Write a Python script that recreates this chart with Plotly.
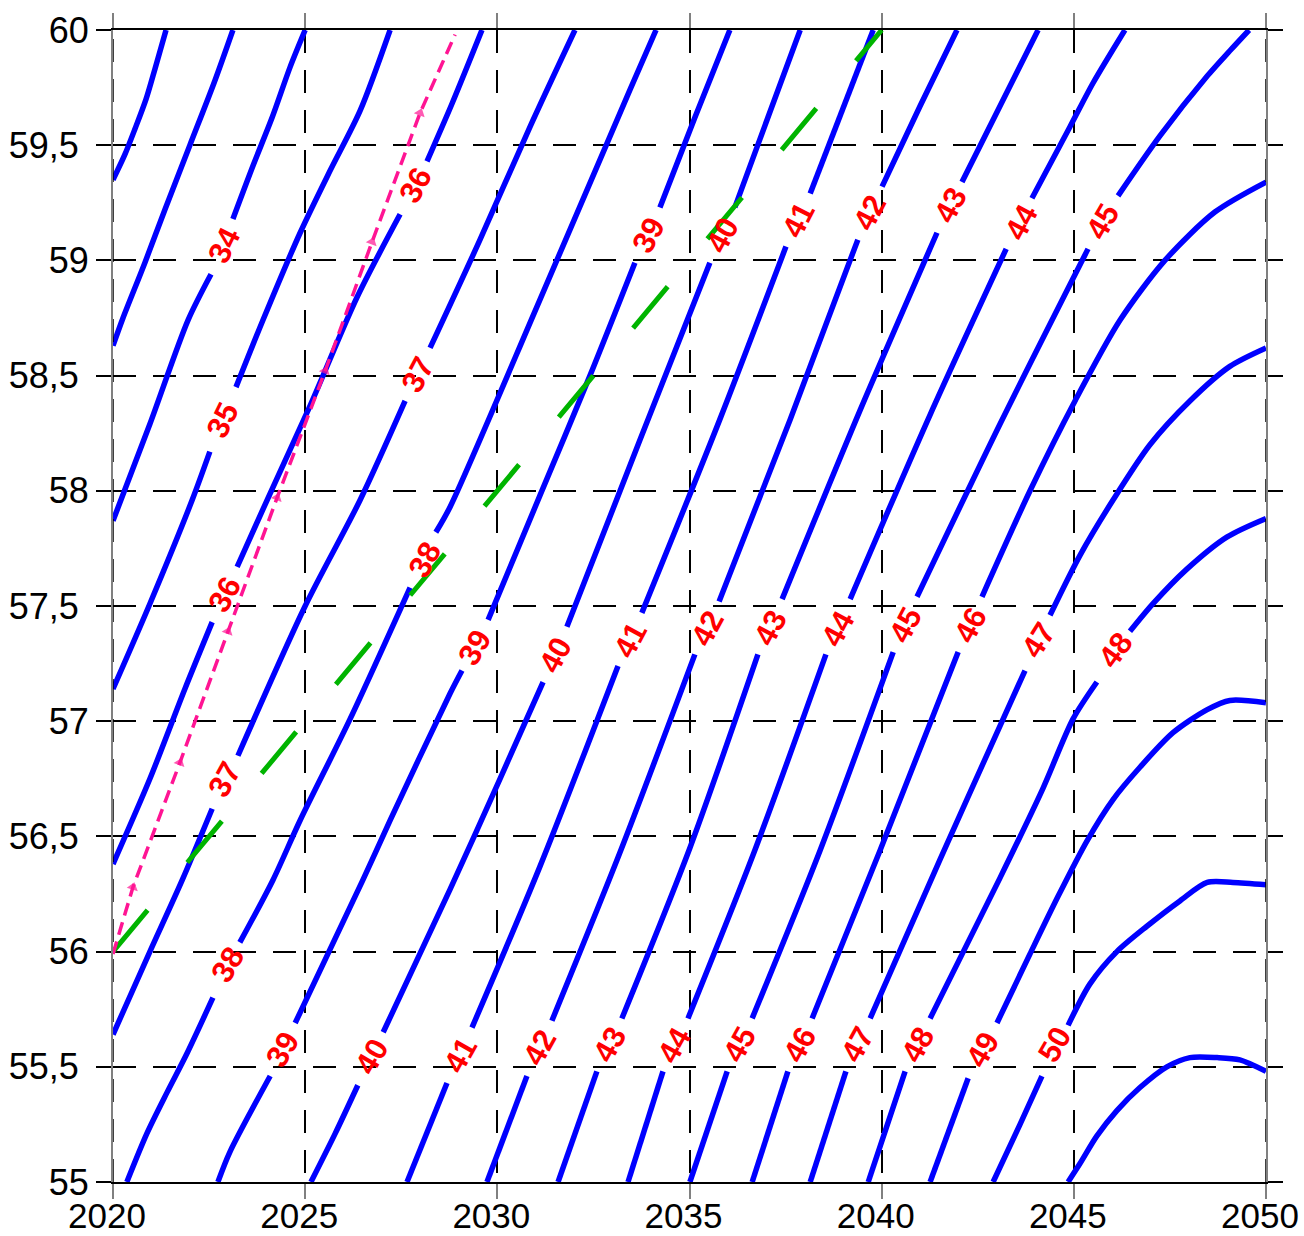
import plotly.graph_objects as go

# ---------------- data ----------------
x_ticks = [2020, 2025, 2030, 2035, 2040, 2045, 2050]
x_tick_text = ["2020", "2025", "2030", "2035", "2040", "2045", "2050"]
y_ticks = [55, 55.5, 56, 56.5, 57, 57.5, 58, 58.5, 59, 59.5, 60]
y_tick_text = ["55", "55,5\u00a0", "56", "56,5\u00a0", "57", "57,5\u00a0",
               "58", "58,5\u00a0", "59", "59,5\u00a0", "60"]

# contour lines (None = break where a label sits)
lvl32_x = [2020.00, 2020.31, 2020.57, 2020.86, 2021.09, 2021.38]
lvl32_y = [59.35, 59.46, 59.57, 59.70, 59.83, 60.00]
lvl33_x = [2020.00, 2020.26, 2020.83, 2021.35, 2022.00, 2022.65, 2023.12]
lvl33_y = [58.63, 58.75, 58.99, 59.22, 59.50, 59.78, 60.00]
lvl34_x = [2020.00, 2020.96, 2021.95, 2022.55, None, 2023.12, 2023.64, 2024.14, 2024.61, 2025.00]
lvl34_y = [57.87, 58.29, 58.74, 58.94, None, 59.18, 59.41, 59.62, 59.84, 60.00]
lvl35_x = [2020.00, 2020.96, 2022.06, 2022.52, None, 2023.20, 2023.90, 2024.87, 2025.65, 2026.43, 2027.21]
lvl35_y = [57.14, 57.51, 57.96, 58.17, None, 58.45, 58.74, 59.12, 59.39, 59.65, 60.00]
lvl36_x = [2020.00, 2020.96, 2021.87, 2022.58, None, 2023.23, 2024.01, 2025.13, 2026.35, 2027.47, None, 2028.17, 2028.82, 2029.60]
lvl36_y = [56.38, 56.75, 57.14, 57.43, None, 57.67, 57.96, 58.37, 58.84, 59.20, None, 59.43, 59.68, 60.00]
lvl37_x = [2020.00, 2020.96, 2021.80, 2022.58, None, 2023.25, 2025.00, 2026.43, 2027.60, None, 2028.25, 2029.55, 2030.85, 2032.02]
lvl37_y = [55.64, 56.00, 56.31, 56.62, None, 56.85, 57.50, 57.96, 58.39, None, 58.62, 59.09, 59.58, 60.00]
lvl38_x = [2020.36, 2020.88, 2021.41, 2021.93, 2022.60, None, 2023.30, 2024.16, 2024.87, 2026.17, 2027.73, None, 2028.40, 2028.77, 2031.11, 2033.45, 2034.13]
lvl38_y = [55.00, 55.21, 55.39, 55.56, 55.80, None, 56.04, 56.31, 56.57, 57.01, 57.58, None, 57.82, 57.93, 58.83, 59.74, 60.00]
lvl39_x = [2022.73, 2023.04, 2024.09, None, 2024.74, 2026.50, 2027.21, 2028.77, 2029.08, None, 2029.76, 2031.11, 2032.41, 2033.58, None, 2034.23, 2035.14, 2036.05]
lvl39_y = [55.00, 55.13, 55.46, None, 55.69, 56.31, 56.57, 57.12, 57.22, None, 57.44, 57.98, 58.50, 58.99, None, 59.23, 59.62, 60.00]
lvl40_x = [2025.15, 2025.78, 2026.37, None, 2027.03, 2028.77, 2030.07, 2031.19, None, 2031.81, 2033.71, 2035.53, None, 2036.18, 2037.04, 2037.88]
lvl40_y = [55.00, 55.21, 55.42, None, 55.65, 56.27, 56.75, 57.17, None, 57.41, 58.22, 58.99, None, 59.23, 59.62, 60.00]
lvl41_x = [2027.65, 2028.69, None, 2029.34, 2031.11, 2033.14, None, 2033.76, 2035.79, 2037.51, None, 2038.14, 2039.78]
lvl41_y = [55.00, 55.43, None, 55.67, 56.37, 57.24, None, 57.47, 58.31, 59.06, None, 59.29, 60.00]
lvl42_x = [2029.73, 2030.77, None, 2031.42, 2033.19, 2035.14, None, 2035.77, 2037.62, 2039.38, None, 2040.01, 2041.00, 2041.96]
lvl42_y = [55.00, 55.46, None, 55.70, 56.43, 57.29, None, 57.52, 58.31, 59.09, None, 59.32, 59.67, 60.00]
lvl43_x = [2031.58, 2032.59, None, 2033.24, 2035.01, 2036.78, None, 2037.41, 2039.44, 2041.44, None, 2042.09, 2043.08, 2044.07]
lvl43_y = [55.00, 55.48, None, 55.71, 56.45, 57.29, None, 57.53, 58.35, 59.12, None, 59.34, 59.67, 60.00]
lvl44_x = [2033.40, 2034.31, None, 2034.96, 2036.70, 2038.55, None, 2039.18, 2041.26, 2043.24, None, 2043.91, 2044.90, 2045.50, 2046.33]
lvl44_y = [55.00, 55.48, None, 55.71, 56.44, 57.29, None, 57.53, 58.33, 59.05, None, 59.27, 59.58, 59.77, 60.00]
lvl45_x = [2035.01, 2035.98, None, 2036.63, 2038.40, 2040.30, None, 2040.92, 2043.08, 2045.37, None, 2046.15, 2047.24, 2048.47, 2049.06, 2049.56]
lvl45_y = [55.00, 55.48, None, 55.71, 56.44, 57.30, None, 57.54, 58.29, 59.05, None, 59.28, 59.54, 59.80, 59.91, 60.00]
lvl46_x = [2036.63, 2037.56, None, 2038.19, 2039.96, 2041.99, None, 2042.61, 2043.86, 2045.03, 2046.20, 2047.37, 2048.67, 2050.00]
lvl46_y = [55.00, 55.48, None, 55.71, 56.44, 57.30, None, 57.54, 58.00, 58.39, 58.74, 59.00, 59.21, 59.34]
lvl47_x = [2038.14, 2039.07, None, 2039.70, 2041.52, 2043.08, 2043.73, None, 2044.38, 2045.16, 2046.02, 2046.98, 2048.02, 2049.06, 2050.00]
lvl47_y = [55.00, 55.48, None, 55.71, 56.40, 56.98, 57.22, None, 57.46, 57.72, 57.96, 58.20, 58.39, 58.54, 58.62]
lvl48_x = [2039.65, 2040.61, None, 2041.26, 2043.08, 2044.20, 2044.98, 2045.60, None, 2046.46, 2047.06, 2047.94, 2048.99, 2050.00]
lvl48_y = [55.00, 55.48, None, 55.71, 56.32, 56.71, 57.01, 57.17, None, 57.39, 57.51, 57.66, 57.80, 57.88]
lvl49_x = [2041.26, 2042.25, None, 2043.00, 2043.86, 2044.59, 2045.34, 2046.02, 2046.72, 2047.58, 2048.47, 2049.06, 2050.00]
lvl49_y = [55.00, 55.45, None, 55.69, 55.99, 56.24, 56.48, 56.66, 56.80, 56.95, 57.05, 57.09, 57.08]
lvl50_x = [2042.90, 2043.60, 2044.17, None, 2044.85, 2045.42, 2046.12, 2046.90, 2047.76, 2048.47, 2049.14, 2050.00]
lvl50_y = [55.00, 55.25, 55.46, None, 55.68, 55.86, 56.00, 56.11, 56.22, 56.30, 56.30, 56.29]
lvl51_x = [2044.85, 2045.16, 2045.60, 2046.12, 2046.72, 2047.42, 2048.02, 2048.73, 2049.32, 2050.00]
lvl51_y = [55.00, 55.08, 55.20, 55.31, 55.41, 55.50, 55.54, 55.54, 55.53, 55.48]

contour_lines = [
    (lvl32_x, lvl32_y), (lvl33_x, lvl33_y), (lvl34_x, lvl34_y), (lvl35_x, lvl35_y),
    (lvl36_x, lvl36_y), (lvl37_x, lvl37_y), (lvl38_x, lvl38_y), (lvl39_x, lvl39_y),
    (lvl40_x, lvl40_y), (lvl41_x, lvl41_y), (lvl42_x, lvl42_y), (lvl43_x, lvl43_y),
    (lvl44_x, lvl44_y), (lvl45_x, lvl45_y), (lvl46_x, lvl46_y), (lvl47_x, lvl47_y),
    (lvl48_x, lvl48_y), (lvl49_x, lvl49_y), (lvl50_x, lvl50_y), (lvl51_x, lvl51_y),
]

# contour labels
label_text = ["34", "35", "36", "37", "38",
              "36", "37", "38",
              "39", "39", "39",
              "40", "40", "40",
              "41", "41", "41",
              "42", "42", "42",
              "43", "43", "43",
              "44", "44", "44",
              "45", "45", "45",
              "46", "46",
              "47", "47",
              "48", "48",
              "49", "50"]
label_x = [2022.91, 2022.84, 2022.91, 2022.91, 2022.99,
           2027.86, 2027.94, 2028.12,
           2024.42, 2029.42, 2033.92,
           2026.74, 2031.50, 2035.85,
           2029.03, 2033.45, 2037.82,
           2031.11, 2035.46, 2039.70,
           2032.93, 2037.09, 2041.78,
           2034.62, 2038.86, 2043.65,
           2036.31, 2040.61, 2045.76,
           2037.88, 2042.30,
           2039.38, 2044.07,
           2040.95, 2046.07,
           2042.64, 2044.51]
label_y = [59.067, 58.307, 57.548, 56.745, 55.942,
           59.327, 58.503, 57.700,
           55.573, 57.318, 59.110,
           55.543, 57.287, 59.110,
           55.551, 57.352, 59.175,
           55.582, 57.404, 59.206,
           55.595, 57.404, 59.240,
           55.595, 57.404, 59.167,
           55.595, 57.417, 59.167,
           55.595, 57.417,
           55.595, 57.352,
           55.595, 57.309,
           55.573, 55.595]
label_angle = [-64, -64, -62, -61, -60,
               -62, -62, -62,
               -60, -60, -62,
               -60, -62, -62,
               -61, -62, -63,
               -61, -62, -63,
               -61, -62, -62,
               -61, -62, -62,
               -61, -62, -60,
               -61, -62,
               -61, -58,
               -61, -54,
               -60, -60]

# green dashed line
green_x = [2020, 2040]
green_y = [56, 60]

# pink dashed line with arrow marks
pink_x = [2020.00, 2020.52, 2021.74, 2022.99, 2024.27, 2025.52, 2026.74, 2027.99, 2028.90]
pink_y = [55.99, 56.28, 56.82, 57.39, 57.97, 58.52, 59.08, 59.64, 59.98]

# ---------------- figure ----------------
FONT = "Liberation Sans, Arial, sans-serif"
fig = go.Figure()

for lx, ly in contour_lines:
    fig.add_trace(go.Scatter(x=lx, y=ly, mode="lines", connectgaps=False,
                             line=dict(color="#0000FF", width=5.5, shape="spline", smoothing=0.8),
                             hoverinfo="skip"))

fig.add_trace(go.Scatter(x=green_x, y=green_y, mode="lines",
                         line=dict(color="#00B400", width=5, dash="54px,62px"),
                         hoverinfo="skip"))

pink_sizes = [0] + [10] * (len(pink_x) - 2) + [0]
fig.add_trace(go.Scatter(x=pink_x, y=pink_y, mode="lines+markers",
                         line=dict(color="#FF1493", width=3.5, dash="13px,7px"),
                         marker=dict(symbol="triangle-up", size=pink_sizes, angleref="previous",
                                     color="#FF1493", line=dict(width=0)),
                         hoverinfo="skip"))

for t, x, y, a in zip(label_text, label_x, label_y, label_angle):
    fig.add_annotation(x=x, y=y, xref="x", yref="y", text=t, showarrow=False,
                       textangle=a, xanchor="center", yanchor="middle",
                       font=dict(family=FONT, size=31, color="#FF0000", weight="bold"))

# dashed grid over the vertical frame lines
for xv in [x_ticks[0], x_ticks[-1]]:
    fig.add_shape(type="line", xref="x", yref="paper", x0=xv, x1=xv, y0=0, y1=1,
                  line=dict(color="black", width=1.5, dash="23px,17px"), layer="above")

fig.update_layout(
    width=1304, height=1236,
    margin=dict(l=113, r=38, t=30, b=54, autoexpand=False),
    plot_bgcolor="white", paper_bgcolor="white",
    showlegend=False,
    font=dict(family=FONT, size=36, color="black"),
)
fig.update_xaxes(
    range=[2020, 2050], tickmode="array", tickvals=x_ticks, ticktext=x_tick_text,
    automargin=False,
    ticks="outside", ticklen=15, tickwidth=2, tickcolor="#808080",
    ticklabelstandoff=-13, ticklabelshift=-6, ticklabeloverflow="allow",
    showline=True, linecolor="black", linewidth=1.5, mirror="ticks",
    showgrid=True, gridcolor="black", gridwidth=1.5, griddash="23px,17px",
    zeroline=False, tickfont=dict(family=FONT, size=35, color="black"),
)
fig.update_yaxes(
    range=[55, 60], tickmode="array", tickvals=y_ticks, ticktext=y_tick_text, automargin=False,
    ticks="outside", ticklen=15, tickwidth=1.5, tickcolor="black", ticklabeloverflow="allow",
    showline=True, linecolor="#808080", linewidth=2, mirror="ticks",
    showgrid=True, gridcolor="black", gridwidth=1.5, griddash="23px,17px",
    zeroline=False, tickfont=dict(family=FONT, size=36, color="black"),
)

fig.write_html("out.html")
